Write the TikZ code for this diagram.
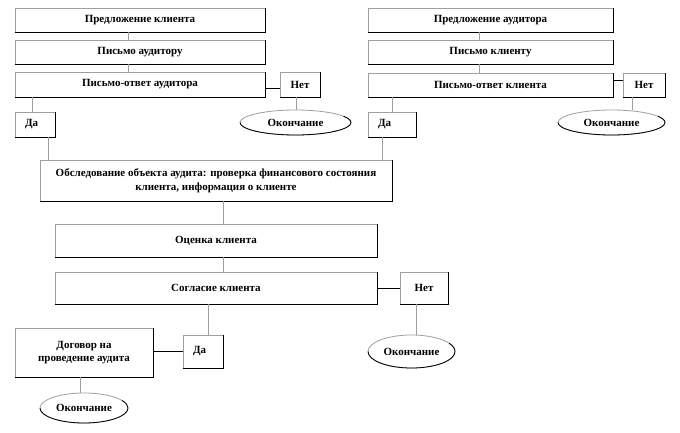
\documentclass[tikz,border=0pt]{standalone}
\usepackage{fontspec}
\setmainfont{Liberation Serif}
\usetikzlibrary{shapes.geometric,calc}
\tikzset{
  base/.style={draw=gray!75, line width=0.8pt, fill=white, inner sep=2pt, outer sep=0pt,
    font=\fontsize{11}{13.5}\selectfont\bfseries, align=center},
  box/.style={base, rectangle},
  dabox/.style={base, rectangle, align=left, inner xsep=10pt},
  oval/.style={base, ellipse, inner sep=0pt},
  conn/.style={draw=gray!75, line width=0.8pt},
  hconn/.style={draw=black, line width=0.8pt},
  shade/.style={draw=black, line width=0.8pt}
}
\begin{document}
\begin{tikzpicture}[x=1pt,y=-1pt]
\fill[white] (0,0) rectangle (680,432);
\useasboundingbox (0,0) rectangle (680,432);

% left column
\node[box, minimum width=250, minimum height=24] (c1) at (140,20) {Предложение клиента};
\node[box, minimum width=250, minimum height=24] (c2) at (140,52) {Письмо аудитору};
\node[box, minimum width=250, minimum height=25] (c3) at (140,84.5) {Письмо-ответ аудитора};
\node[box, minimum width=40, minimum height=25] (n1) at (300,84.5) {Нет};
\node[dabox, text width=20pt, minimum height=25] (d1) at (35,124.5) {Да};
\node[oval, minimum width=111, minimum height=25] (e1) at (295.5,122.5) {Окончание};

% right column
\node[box, minimum width=245, minimum height=24] (r1) at (490.5,20) {Предложение аудитора};
\node[box, minimum width=245, minimum height=24] (r2) at (490.5,52) {Письмо клиенту};
\node[box, minimum width=245, minimum height=24] (r3) at (490.5,85) {Письмо-ответ клиента};
\node[box, minimum width=42, minimum height=24] (n2) at (644,85) {Нет};
\node[dabox, text width=28pt, minimum height=25] (d2) at (392,124.5) {Да};
\node[oval, minimum width=107, minimum height=25] (e2) at (611.5,122.5) {Окончание};

% middle
\node[box, minimum width=352, minimum height=41] (obs) at (216,180.5)
  {Обследование объекта аудита: проверка финансового состояния\\клиента, информация о клиенте};
\node[box, minimum width=322, minimum height=33] (oc) at (216,240.5) {Оценка клиента};
\node[box, minimum width=322, minimum height=32] (sog) at (216,288) {Согласие клиента};
\node[box, minimum width=48, minimum height=32] (n3) at (424,288) {Нет};
\node[dabox, text width=20pt, minimum height=33] (d3) at (203,351.5) {Да};
\node[box, minimum width=138, minimum height=49] (dog) at (84,352.5) {Договор на\\проведение аудита};
\node[oval, minimum width=88, minimum height=30] (e3) at (84,408) {Окончание};
\node[oval, minimum width=87, minimum height=33] (e4) at (411.5,351.5) {Окончание};

% dark lower/right edges
\foreach \n in {c1,c2,c3,n1,d1,r1,r2,r3,n2,d2,obs,oc,sog,n3,d3,dog}
  \draw[shade] (\n.south west) -- (\n.south east) -- (\n.north east);
\foreach \n/\rx/\ry in {e1/55.5pt/12.5pt, e2/53.5pt/12.5pt, e3/44pt/15pt, e4/43.5pt/16.5pt}
  \draw[shade] (\n.west) arc[start angle=180, end angle=390, x radius=\rx, y radius=\ry];

% connectors left
\draw[conn] ([xshift=-12pt]c1.south) -- ([xshift=-12pt]c2.north);
\draw[conn] ([xshift=-12pt]c2.south) -- ([xshift=-12pt]c3.north);
\draw[hconn] ([yshift=-3.5pt]c3.east) -- ([yshift=-3.5pt]c3.east -| n1.west);
\draw[conn] ([xshift=-3pt]d1.north |- c3.south) -- ([xshift=-3pt]d1.north);
\draw[conn] ([xshift=13pt]d1.south) -- ([xshift=13pt]d1.south |- obs.north);
\draw[conn] ([xshift=-4pt]n1.south) -- ([xshift=-4pt]n1.south |- e1.north);

% connectors right
\draw[conn] ([xshift=-11.5pt]r1.south) -- ([xshift=-11.5pt]r2.north);
\draw[conn] ([xshift=-11.5pt]r2.south) -- ([xshift=-11.5pt]r3.north);
\draw[hconn] ([yshift=5pt]r3.east) -- ([yshift=5pt]r3.east -| n2.west);
\draw[conn] (d2.north |- r3.south) -- (d2.north);
\draw[conn] ([xshift=-10pt]d2.south) -- ([xshift=-10pt]d2.south |- obs.north);
\draw[conn] ([xshift=-12pt]n2.south) -- ([xshift=-12pt]n2.south |- e2.north);

% connectors middle
\draw[conn] ([xshift=7pt]obs.south) -- ([xshift=7pt]oc.north);
\draw[conn] ([xshift=7pt]oc.south) -- ([xshift=7pt]sog.north);
\draw[hconn] (sog.east) -- (n3.west);
\draw[conn] ([xshift=5pt]d3.north |- sog.south) -- ([xshift=5pt]d3.north);
\draw[hconn] (d3.west) -- (d3.west -| dog.east);
\draw[conn] ([xshift=-4pt]dog.south) -- ([xshift=-4pt]dog.south |- e3.north);
\draw[conn] ([xshift=-8pt]n3.south) -- ([xshift=-8pt]n3.south |- e4.north);
\end{tikzpicture}
\end{document}
